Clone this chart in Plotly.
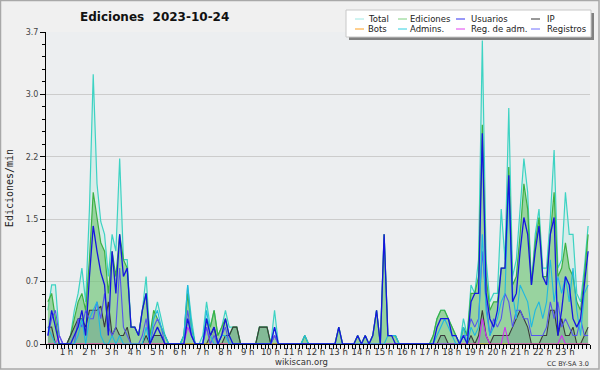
import plotly.graph_objects as go

# 10-minute bins, values in edits/min (144 bins per series, hour by hour)
total = [0.4,0.7,0.7,0.1,0,0,  0.1,0.4,0.6,0.9,0.5,1.6,  3.2,1.9,1.45,1.3,0.8,1.3,
         1.1,2.2,1.0,1.0,0.2,0.2,  0.1,0.4,0.8,0.1,0.3,0.5,  0.3,0.1,0,0,0,0,
         0.1,0.7,0.3,0,0,0.1,  0.5,0.2,0.4,0.1,0.2,0.4,  0.2,0.2,0.2,0,0,0,
         0,0,0.2,0.2,0.2,0,  0.4,0,0,0,0,0,  0,0,0.1,0,0,0,
         0,0,0,0,0,0.2,  0,0,0,0,0.1,0,  0.1,0,0.1,0.4,0,1.3,
         0.1,0.1,0.1,0,0,0,  0,0,0,0,0,0,  0.1,0.3,0.4,0.4,0.3,0.2,
         0.1,0,0.3,0.1,0.7,0.6,  1.0,3.6,1.0,0.5,0.6,0.6,  1.6,1.0,2.8,0.8,1.0,1.6,
         2.2,1.8,0.7,1.3,1.6,0.9,  0.9,1.5,2.3,0.9,1.0,1.8,  1.3,1.3,0.6,0.5,0.9,1.4]
ediciones = [0.5,0.6,0.3,0,0,0,  0.1,0.3,0.5,0.6,0.4,1.0,  1.8,1.5,1.2,1.1,0.6,1.1,
             0.8,1.3,1.0,0.9,0.2,0.2,  0.1,0.4,0.6,0.1,0.4,0.3,  0.2,0.1,0,0,0,0,
             0.1,0.6,0.2,0,0,0,  0.3,0.2,0.4,0.1,0.2,0.3,  0.1,0.2,0.2,0,0,0,
             0,0,0.2,0.2,0.2,0,  0.1,0,0,0,0,0,  0,0,0.1,0,0,0,
             0,0,0,0,0,0.2,  0,0,0,0,0.1,0,  0.1,0,0.1,0.4,0,1.3,
             0.1,0.1,0.1,0,0,0,  0,0,0,0,0,0,  0.1,0.3,0.4,0.4,0.3,0.2,
             0.1,0,0.2,0.1,0.6,0.6,  0.8,2.6,0.8,0.4,0.5,0.5,  0.9,0.9,2.1,0.7,0.8,1.3,
             1.9,1.6,0.7,1.2,1.5,0.8,  0.8,1.3,1.8,0.8,0.9,1.2,  0.9,0.8,0.5,0.4,0.8,1.3]
usuarios = [0.1,0.4,0.2,0,0,0,  0,0.1,0.2,0.4,0.1,0.8,  1.4,1.1,0.85,0.7,0.1,1.1,
            0.6,1.3,0.8,0.9,0.2,0.2,  0.1,0.4,0.6,0,0.1,0.2,  0.1,0,0,0,0,0,
            0,0.3,0.1,0,0,0,  0.3,0.1,0.2,0,0.1,0.3,  0.1,0,0,0,0,0,
            0,0,0,0,0,0,  0.2,0,0,0,0,0,  0,0,0,0,0,0,
            0,0,0,0,0,0.2,  0,0,0,0,0.1,0,  0.1,0,0.1,0.4,0,1.3,
            0.1,0.1,0,0,0,0,  0,0,0,0,0,0,  0,0.2,0.3,0.3,0.3,0.1,
            0.1,0,0.1,0,0.5,0.6,  0.6,2.5,0.6,0.3,0.2,0.4,  0.9,0.9,2.0,0.5,0.6,1.1,
            1.5,1.3,0.7,1.1,1.4,0.8,  0.7,1.3,1.5,0.1,0.4,0.8,  0.7,0.3,0.2,0.3,0.7,1.1]
ip = [0.2,0.2,0,0,0,0,  0.1,0.2,0.3,0.3,0.2,0.4,  0.4,0.4,0.45,0.2,0.5,0.1,
      0.2,0.1,0.1,0.2,0,0,  0,0,0.1,0,0.1,0.1,  0.1,0,0,0,0,0,
      0,0,0,0,0,0,  0,0.1,0.2,0,0,0.1,  0.1,0.2,0.2,0,0,0,
      0,0,0.2,0.2,0.2,0,  0,0,0,0,0,0,  0,0,0,0,0,0,
      0,0,0,0,0,0,  0,0,0,0,0,0,  0,0,0,0,0,0,
      0,0,0,0,0,0,  0,0,0,0,0,0,  0,0,0.1,0.1,0,0,
      0,0,0,0,0.1,0,  0.1,0.4,0.1,0,0.1,0.1,  0.1,0.1,0.1,0.2,0.3,0.4,
      0.3,0.2,0,0,0,0.1,  0.1,0.4,0.4,0.1,0.3,0.1,  0.1,0.2,0,0,0.1,0.2]
bots = [0] * 144
admins = [0.2,0.1,0,0,0,0,  0,0,0.1,0.3,0,0.3,  0.4,0.5,0.1,0,0,0.1,
          0,0.1,0,0,0,0,  0,0,0.2,0,0.3,0.4,  0.2,0.1,0,0,0,0,
          0.1,0.7,0.2,0,0,0,  0.4,0.1,0,0,0.1,0.1,  0,0,0,0,0,0,
          0,0,0,0,0,0,  0.2,0,0,0,0,0,  0,0,0.1,0,0,0,
          0,0,0,0,0,0,  0,0,0,0,0,0,  0,0,0,0,0,0,
          0.1,0.1,0.1,0,0,0,  0,0,0,0,0,0,  0,0.1,0.2,0.3,0.2,0.1,
          0,0,0.2,0,0.2,0.1,  0.2,1.3,0.4,0.1,0.2,0.3,  0.5,0.6,1.9,0.6,0.3,0.7,
          0.6,0.5,0.2,0.4,0.5,0.3,  0.5,1.0,0.5,0.8,0.6,0.8,  0.5,0.9,0.4,0.1,0.6,0.7]
reg_adm = [0,0,0,0.1,0,0,  0,0,0,0,0,0,  0,0,0,0,0,0,
           0,0,0,0,0,0,  0,0,0,0,0,0,  0,0,0,0,0,0,
           0,0.2,0.1,0,0,0,  0.2,0,0,0,0,0,  0,0,0,0,0,0,
           0,0,0,0,0,0,  0.1,0,0,0,0,0,  0,0,0,0,0,0,
           0,0,0,0,0,0,  0,0,0,0,0,0,  0,0,0,0,0,0,
           0,0,0,0,0,0,  0,0,0,0,0,0,  0,0,0,0,0,0,
           0,0,0,0,0,0,  0,0.3,0.1,0,0,0,  0,0.2,0,0,0,0,
           0,0,0,0,0,0,  0,0,0,0,0.1,0,  0,0,0,0,0,0]
registros = [0.1,0.3,0.4,0.1,0,0,  0,0,0.3,0.2,0.4,0.3,  0.3,0.5,0.3,0.6,0.2,0.1,
             0.2,0.9,0.2,0.1,0,0,  0,0.1,0.3,0,0.2,0.3,  0.2,0,0,0,0,0,
             0,0.4,0.1,0,0,0,  0.2,0,0.1,0,0.1,0.2,  0,0,0,0,0,0,
             0,0,0,0,0,0,  0.1,0,0,0,0,0,  0,0,0,0,0,0,
             0,0,0,0,0,0,  0,0,0,0,0,0,  0,0,0,0,0,0,
             0,0,0,0,0,0,  0,0,0,0,0,0,  0,0,0,0,0,0,
             0,0,0.1,0.1,0.3,0.2,  0.3,1.1,0.5,0.1,0.3,0.2,  0.3,0.6,0.5,0.2,0.4,0.4,
             0.3,0.3,0.1,0.1,0.1,0.1,  0.2,0.5,0.3,0.5,0.2,0.3,  0.2,0.1,0.1,0.3,0.1,0.1]

hours = [(i + 0.5) / 6 for i in range(144)]
hour_labels = [f"{h} h" for h in range(1, 24)]
y_ticks = [0, 0.74, 1.48, 2.22, 2.96, 3.7]
y_ticktext = ["0.0", "0.7", "1.5", "2.2", "3.0", "3.7"]

legend_items = [
    ("Total", "#9ee8e4"), ("Ediciones", "#7fd07f"), ("Usuarios", "#3030f0"), ("IP", "#333333"),
    ("Bots", "#ffa020"), ("Admins.", "#30d0e0"), ("Reg. de adm.", "#e040f0"), ("Registros", "#7070ff"),
]

fig = go.Figure()
fig.add_trace(go.Scatter(x=hours, y=total, mode="lines", name="Total",
                         line=dict(color="#3dd3c3", width=1.2), fill="tozeroy",
                         fillcolor="rgba(120,225,205,0.18)"))
fig.add_trace(go.Scatter(x=hours, y=ediciones, mode="lines", name="Ediciones",
                         line=dict(color="#3cb043", width=1.2), fill="tozeroy",
                         fillcolor="rgba(110,195,110,0.6)"))
fig.add_trace(go.Scatter(x=hours, y=ip, mode="lines", name="IP",
                         line=dict(color="#3a3a3a", width=1.1), fill="tozeroy",
                         fillcolor="rgba(60,100,120,0.22)"))
fig.add_trace(go.Scatter(x=hours, y=bots, mode="lines", name="Bots",
                         line=dict(color="#ffa020", width=1)))
fig.add_trace(go.Scatter(x=hours, y=reg_adm, mode="lines", name="Reg. de adm.",
                         line=dict(color="#d030f0", width=1.1)))
fig.add_trace(go.Scatter(x=hours, y=registros, mode="lines", name="Registros",
                         line=dict(color="#5555ee", width=1.1)))
fig.add_trace(go.Scatter(x=hours, y=admins, mode="lines", name="Admins.",
                         line=dict(color="#20b8e0", width=1.1)))
fig.add_trace(go.Scatter(x=hours, y=usuarios, mode="lines", name="Usuarios",
                         line=dict(color="#1515e0", width=1.3)))

L, T, PW, PH = 46, 32, 544, 312


def px(x):
    return (x - L) / PW


def py(y):
    return (T + PH - y) / PH


shapes = [
    # outer frame
    dict(type="rect", xref="paper", yref="paper", x0=px(0.5), x1=px(599), y0=py(369), y1=py(0.5),
         line=dict(color="#a8a8a8", width=1.5), layer="below"),
    # legend shadow and box
    dict(type="rect", xref="paper", yref="paper", x0=px(349), x1=px(594), y0=py(40), y1=py(13),
         fillcolor="#808080", line=dict(width=0)),
    dict(type="rect", xref="paper", yref="paper", x0=px(346), x1=px(591), y0=py(37), y1=py(10),
         fillcolor="#ffffff", line=dict(color="#c8c8c8", width=1)),
]
annotations = [
    dict(text="<b>Ediciones  2023-10-24</b>", x=px(154), y=py(17), xref="paper", yref="paper",
         showarrow=False, xanchor="center", yanchor="middle",
         font=dict(family="DejaVu Sans", size=12, color="#111")),
    dict(text="wikiscan.org", x=px(301), y=py(362), xref="paper", yref="paper", showarrow=False,
         xanchor="center", yanchor="middle", font=dict(family="DejaVu Sans", size=8.5, color="#333")),
    dict(text="CC BY-SA 3.0", x=px(591), y=py(363.5), xref="paper", yref="paper", showarrow=False,
         xanchor="right", yanchor="middle", font=dict(family="DejaVu Sans", size=6.5, color="#333")),
]

col_line = [355, 398, 456, 531]
col_text = [366, 408, 469, 545]
row_y = [19, 29]
for k, (name, color) in enumerate(legend_items):
    r, c = divmod(k, 4)
    shapes.append(dict(type="line", xref="paper", yref="paper", x0=px(col_line[c]),
                       x1=px(col_line[c] + 9), y0=py(row_y[r]), y1=py(row_y[r]),
                       line=dict(color=color, width=1)))
    annotations.append(dict(text=name, x=px(col_text[c]), y=py(row_y[r]), xref="paper", yref="paper",
                            showarrow=False, xanchor="left", yanchor="middle",
                            font=dict(family="DejaVu Sans", size=8.5, color="#222")))

fig.update_layout(
    width=600, height=370,
    margin=dict(l=L, r=600 - L - PW, t=T, b=370 - T - PH),
    paper_bgcolor="#f0f0f0", plot_bgcolor="#eceef0",
    showlegend=False,
    shapes=shapes, annotations=annotations,
    font=dict(family="DejaVu Sans", size=9, color="#333"),
    xaxis=dict(range=[0, 24], showgrid=False, zeroline=False,
               showline=True, linecolor="black", linewidth=1,
               tickmode="array", tickvals=[h - 0.1 for h in range(1, 24)], ticktext=hour_labels,
               ticks="", ticklen=0,
               tickfont=dict(family="DejaVu Sans", size=8.5, color="#333"),
               minor=dict(ticks="outside", ticklen=4, tickcolor="black", tickmode="linear",
                          tick0=0, dtick=1 / 6, showgrid=False)),
    yaxis=dict(range=[0, 3.7], showgrid=True, gridcolor="#cccccc", gridwidth=1, zeroline=False,
               showline=True, linecolor="black", linewidth=1,
               tickmode="array", tickvals=y_ticks, ticktext=y_ticktext,
               ticks="outside", ticklen=5, tickcolor="black",
               tickfont=dict(family="DejaVu Sans", size=8, color="#444"),
               title=dict(text="Ediciones/min", standoff=10,
                          font=dict(family="DejaVu Sans Mono", size=10, color="#222")),
               minor=dict(ticks="outside", ticklen=3, tickcolor="black", tickmode="linear",
                          tick0=0, dtick=0.148, showgrid=False)),
)

fig.write_html("out.html")
